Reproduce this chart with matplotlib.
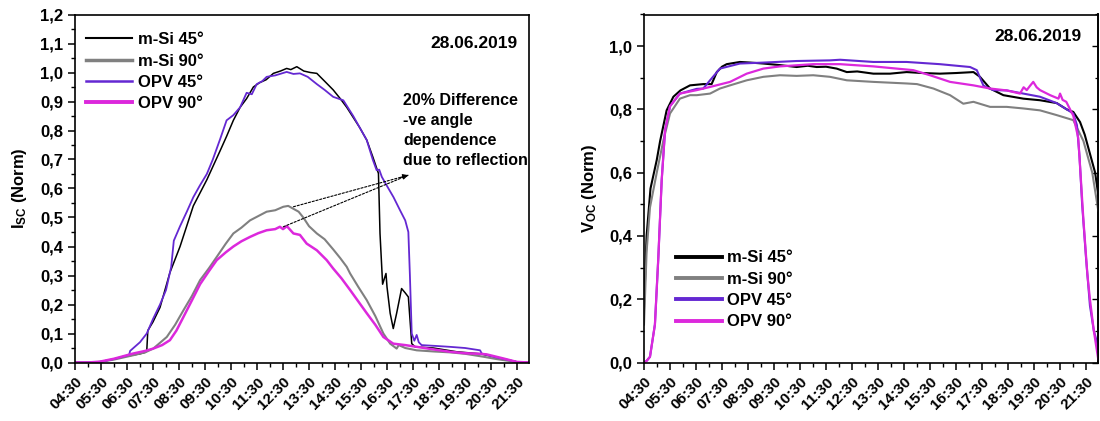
import matplotlib
matplotlib.use("Agg")
import matplotlib.pyplot as plt
from matplotlib.ticker import FixedLocator, MultipleLocator, FuncFormatter

plt.rcParams['font.family'] = ['Liberation Sans', 'DejaVu Sans']
plt.rcParams['font.weight'] = 'bold'
plt.rcParams['mathtext.fontset'] = 'custom'
plt.rcParams['mathtext.rm'] = 'Liberation Sans:bold'
plt.rcParams['mathtext.bf'] = 'Liberation Sans:bold'
plt.rcParams['mathtext.it'] = 'Liberation Sans:bold'

# ---------------- data ----------------
time_labels = ["04:30", "05:30", "06:30", "07:30", "08:30", "09:30", "10:30", "11:30",
               "12:30", "13:30", "14:30", "15:30", "16:30", "17:30", "18:30", "19:30",
               "20:30", "21:30"]
date_text = "28.06.2019"
series_names = ["m-Si 45°", "m-Si 90°", "OPV 45°", "OPV 90°"]

# Left panel: Isc (Norm), time in decimal hours
isc_msi45_t = [4.5, 5.0, 5.5, 6.0, 6.5, 7.0, 7.2, 7.26, 7.3, 7.5, 7.77, 8.15, 8.54, 9.05, 9.57,
               10.08, 10.33, 10.59, 10.85, 11.1, 11.36, 11.6, 11.85, 12.13, 12.4, 12.64, 12.8,
               13.03, 13.3, 13.55, 13.8, 14.1, 14.43, 14.7, 14.95, 15.2, 15.45, 15.72, 15.95,
               16.17, 16.23, 16.33, 16.46, 16.5, 16.62, 16.74, 16.87, 17.06, 17.2, 17.32, 17.45,
               17.58, 18.28, 19.18, 20.08, 20.6, 21.1, 21.6, 21.95]
isc_msi45_v = [0, 0, 0.003, 0.012, 0.022, 0.03, 0.035, 0.04, 0.11, 0.14, 0.19, 0.31, 0.40, 0.54,
               0.63, 0.73, 0.78, 0.835, 0.88, 0.91, 0.95, 0.965, 0.975, 0.997, 1.005, 1.014,
               1.01, 1.02, 1.005, 1.0, 0.997, 0.97, 0.94, 0.91, 0.88, 0.845, 0.81, 0.767, 0.71,
               0.652, 0.445, 0.27, 0.307, 0.26, 0.17, 0.117, 0.17, 0.255, 0.24, 0.226, 0.065,
               0.054, 0.05, 0.037, 0.03, 0.02, 0.01, 0.0, 0.0]

isc_msi90_t = [4.5, 5.0, 5.46, 6.0, 6.74, 7.2, 7.51, 8.03, 8.35, 8.67, 9.0, 9.31, 9.65, 9.95,
               10.3, 10.59, 10.9, 11.23, 11.55, 11.87, 12.2, 12.51, 12.7, 12.9, 13.1, 13.28,
               13.5, 13.8, 14.1, 14.43, 14.7, 14.95, 15.08, 15.4, 15.72, 16.05, 16.36, 16.62,
               16.87, 16.95, 17.2, 17.64, 18.3, 18.92, 19.5, 20.2, 20.7, 21.23, 21.6, 21.95]
isc_msi90_v = [0, 0, 0.002, 0.01, 0.025, 0.035, 0.048, 0.088, 0.13, 0.18, 0.23, 0.284, 0.325,
               0.364, 0.41, 0.445, 0.465, 0.49, 0.505, 0.52, 0.525, 0.537, 0.54, 0.53, 0.52,
               0.50, 0.47, 0.445, 0.425, 0.39, 0.36, 0.33, 0.307, 0.26, 0.215, 0.16, 0.10,
               0.065, 0.048, 0.06, 0.05, 0.042, 0.038, 0.035, 0.03, 0.02, 0.012, 0.005, 0.0, 0.0]

isc_opv45_t = [4.5, 5.0, 5.46, 6.0, 6.5, 6.58, 6.62, 7.0, 7.26, 7.5, 7.77, 8.0, 8.2, 8.3, 8.54,
               8.8, 9.05, 9.3, 9.57, 9.8, 10.08, 10.33, 10.59, 10.85, 11.1, 11.3, 11.49, 11.7,
               11.87, 12.2, 12.64, 12.9, 13.15, 13.45, 13.8, 14.1, 14.43, 14.82, 15.2, 15.45,
               15.72, 15.95, 16.1, 16.2, 16.3, 16.49, 16.75, 17.0, 17.2, 17.32, 17.38, 17.45,
               17.55, 17.64, 17.72, 17.83, 18.4, 18.92, 19.5, 20.08, 20.14, 20.6, 21.1, 21.6,
               21.95]
isc_opv45_v = [0, 0, 0.002, 0.012, 0.024, 0.026, 0.04, 0.07, 0.10, 0.15, 0.20, 0.25, 0.33,
               0.42, 0.47, 0.52, 0.57, 0.61, 0.65, 0.70, 0.77, 0.835, 0.853, 0.88, 0.93, 0.925,
               0.96, 0.97, 0.985, 0.99, 1.002, 0.995, 0.997, 0.985, 0.96, 0.94, 0.916, 0.904,
               0.85, 0.81, 0.767, 0.70, 0.663, 0.665, 0.64, 0.61, 0.57, 0.525, 0.49, 0.45, 0.3,
               0.10, 0.075, 0.095, 0.07, 0.06, 0.057, 0.054, 0.05, 0.042, 0.031, 0.02, 0.01,
               0.0, 0.0]

isc_opv90_t = [4.5, 5.0, 5.46, 6.0, 6.74, 7.2, 7.51, 7.85, 8.15, 8.4, 8.67, 9.0, 9.31, 9.65,
               9.95, 10.3, 10.59, 10.9, 11.23, 11.55, 11.87, 12.2, 12.38, 12.5, 12.65, 12.9,
               13.15, 13.41, 13.8, 14.18, 14.43, 14.75, 15.08, 15.4, 15.72, 16.05, 16.36, 16.74,
               17.2, 17.64, 18.3, 18.92, 19.5, 20.08, 20.33, 20.97, 21.49, 21.95]
isc_opv90_v = [0, 0, 0.003, 0.013, 0.031, 0.04, 0.048, 0.06, 0.077, 0.11, 0.157, 0.215, 0.27,
               0.315, 0.353, 0.38, 0.40, 0.418, 0.433, 0.446, 0.456, 0.46, 0.468, 0.46, 0.47,
               0.445, 0.44, 0.41, 0.387, 0.353, 0.324, 0.29, 0.25, 0.21, 0.17, 0.13, 0.088,
               0.065, 0.06, 0.054, 0.045, 0.037, 0.032, 0.03, 0.028, 0.014, 0.002, 0.0]

# Right panel: Voc (Norm)
voc_msi45_t = [4.5, 4.6, 4.75, 4.99, 5.12, 5.37, 5.63, 5.9, 6.27, 6.78, 7.1, 7.3, 7.5, 7.68,
               8.19, 8.6, 9.09, 9.73, 10.37, 10.8, 11.14, 11.5, 11.91, 12.3, 12.7, 13.32,
               13.96, 14.6, 15.2, 15.88, 16.5, 17.17, 17.42, 17.81, 18.32, 19.09, 19.73, 20.37,
               20.76, 21.01, 21.27, 21.45, 21.65, 21.85, 21.97]
voc_msi45_v = [0.17, 0.40, 0.55, 0.64, 0.70, 0.797, 0.84, 0.86, 0.876, 0.88, 0.88, 0.918,
               0.935, 0.943, 0.95, 0.948, 0.945, 0.94, 0.934, 0.938, 0.934, 0.935, 0.929,
               0.918, 0.92, 0.913, 0.913, 0.918, 0.915, 0.913, 0.915, 0.918, 0.903, 0.866,
               0.845, 0.834, 0.829, 0.82, 0.80, 0.792, 0.76, 0.72, 0.66, 0.6, 0.53]

voc_msi90_t = [4.5, 4.6, 4.73, 4.99, 5.24, 5.5, 5.88, 6.27, 6.53, 7.04, 7.42, 7.81, 8.45, 9.09,
               9.73, 10.37, 11.01, 11.65, 12.3, 13.32, 14.6, 15.0, 15.63, 16.27, 16.78, 17.17,
               17.81, 18.45, 19.09, 19.73, 20.37, 21.01, 21.4, 21.74, 21.97]
voc_msi90_v = [0.12, 0.35, 0.49, 0.60, 0.70, 0.787, 0.834, 0.845, 0.845, 0.85, 0.866, 0.876,
               0.892, 0.903, 0.908, 0.906, 0.908, 0.903, 0.892, 0.887, 0.882, 0.88, 0.866,
               0.845, 0.818, 0.824, 0.808, 0.808, 0.803, 0.797, 0.782, 0.766, 0.70, 0.60, 0.48]

voc_opv45_t = [4.5, 4.6, 4.73, 4.92, 5.05, 5.18, 5.31, 5.5, 5.88, 6.53, 6.78, 7.04, 7.42, 8.19,
               9.09, 10.37, 11.65, 12.04, 13.32, 14.6, 15.88, 17.04, 17.3, 17.55, 17.67, 17.94,
               18.45, 19.09, 19.73, 20.37, 21.01, 21.15, 21.25, 21.35, 21.5, 21.65, 21.8, 21.97]
voc_opv45_v = [0, 0.005, 0.018, 0.12, 0.33, 0.576, 0.734, 0.81, 0.85, 0.865, 0.866, 0.892,
               0.929, 0.945, 0.948, 0.953, 0.955, 0.957, 0.95, 0.95, 0.943, 0.934, 0.924, 0.876,
               0.87, 0.861, 0.86, 0.85, 0.84, 0.82, 0.787, 0.75, 0.65, 0.5, 0.33, 0.18, 0.1, 0.05]

voc_opv90_t = [4.5, 4.6, 4.73, 4.92, 5.05, 5.18, 5.31, 5.5, 5.88, 6.53, 7.04, 7.81, 8.45, 9.09,
               9.73, 11.01, 12.04, 13.32, 14.86, 15.5, 16.27, 17.17, 17.81, 18.45, 18.96, 19.1,
               19.22, 19.35, 19.47, 19.6, 19.73, 20.12, 20.44, 20.5, 20.6, 20.74, 21.01, 21.2,
               21.27, 21.4, 21.55, 21.65, 21.8, 21.97]
voc_opv90_v = [0, 0.005, 0.018, 0.12, 0.33, 0.576, 0.734, 0.81, 0.85, 0.861, 0.871, 0.887,
               0.913, 0.929, 0.936, 0.943, 0.943, 0.936, 0.924, 0.908, 0.887, 0.876, 0.866,
               0.86, 0.85, 0.87, 0.861, 0.875, 0.887, 0.87, 0.861, 0.845, 0.834, 0.85, 0.83,
               0.824, 0.78, 0.71, 0.62, 0.45, 0.28, 0.2, 0.1, 0.01]

# annotation (arrow start points on the 90° peaks, common tip)
arrow_starts = [(12.9, 0.537), (12.51, 0.468)]
arrow_tip = (17.32, 0.646)
note_text = "20% Difference\n-ve angle\ndependence\ndue to reflection"

# ---------------- styling ----------------
colors = ["#000000", "#808080", "#6428D2", "#DC28DC"]
lw_left = [1.1, 1.5, 1.3, 1.8]
lw_right = [1.5, 1.5, 1.5, 1.6]
leg_lw_left = [1.5, 2.5, 1.8, 2.8]
leg_lw_right = [2.8, 2.8, 2.8, 2.8]

W, H = 1100, 421
fig = plt.figure(figsize=(W / 100, H / 100), dpi=100)
ax1 = fig.add_axes([75 / W, 1 - 362.5 / H, 454 / W, 348 / H])
ax2 = fig.add_axes([644 / W, 1 - 362.5 / H, 454 / W, 348 / H])

tick_pos = [int(s[:2]) + int(s[3:]) / 60 for s in time_labels]
comma = FuncFormatter(lambda v, p: f"{v:.1f}".replace(".", ","))

def style_axis(ax, ymax, ymaj, ymin, right_ticks):
    ax.set_xlim(4.5, 21.96)
    ax.set_ylim(0, ymax)
    ax.xaxis.set_major_locator(FixedLocator(tick_pos))
    ax.xaxis.set_minor_locator(FixedLocator([p + 0.5 for p in tick_pos[:-1]]))
    ax.set_xticklabels(time_labels, rotation=45, ha="right", rotation_mode="anchor",
                       fontsize=11, fontweight="bold")
    ax.yaxis.set_major_locator(MultipleLocator(ymaj))
    ax.yaxis.set_minor_locator(MultipleLocator(ymin))
    ax.yaxis.set_major_formatter(comma)
    ax.tick_params(axis="both", which="major", direction="out", length=5, width=1.1)
    ax.tick_params(axis="y", which="major", labelsize=12)
    ax.tick_params(axis="both", which="minor", direction="out", length=3, width=1.0)
    ax.tick_params(axis="x", which="major", pad=4)
    for lab in ax.get_yticklabels():
        lab.set_fontweight("bold")
    for sp in ax.spines.values():
        sp.set_linewidth(1.2)
    if right_ticks:
        sec = ax.secondary_yaxis("right")
        sec.yaxis.set_major_locator(MultipleLocator(ymaj))
        sec.yaxis.set_minor_locator(MultipleLocator(ymin))
        sec.tick_params(which="major", direction="in", length=4, width=1.0, labelright=False)
        sec.tick_params(which="minor", direction="in", length=2.5, width=0.9)
        sec.spines["right"].set_linewidth(1.2)

# ---------------- left panel ----------------
left_data = [(isc_msi45_t, isc_msi45_v), (isc_msi90_t, isc_msi90_v),
             (isc_opv45_t, isc_opv45_v), (isc_opv90_t, isc_opv90_v)]
for (t, v), name, c, lw in zip(left_data, series_names, colors, lw_left):
    ax1.plot(t, v, color=c, lw=lw, label=name)
style_axis(ax1, 1.2, 0.1, 0.05, False)
ax1.set_ylabel(r"$\mathbf{I_{SC}}$ (Norm)", fontsize=12, fontweight="bold")
ax1.yaxis.set_label_coords(-0.102, 0.5)

leg1 = ax1.legend(loc="upper left", bbox_to_anchor=(0.025, 0.949), frameon=False,
                  fontsize=12, handlelength=2.75, handletextpad=0.35, labelspacing=0.38,
                  borderpad=0, borderaxespad=0)
for ln, lw in zip(leg1.get_lines(), leg_lw_left):
    ln.set_linewidth(lw)

ax1.text(0.975, 0.918, date_text, transform=ax1.transAxes, ha="right", va="center",
         fontsize=12.5, fontweight="bold")
ax1.text(17.12, 0.93, note_text, ha="left", va="top", fontsize=11.5, fontweight="bold",
         linespacing=1.42)
for st in arrow_starts:
    ax1.annotate("", xy=arrow_tip, xytext=st,
                 arrowprops=dict(arrowstyle="-", linestyle=(0, (2, 1.5)), lw=0.8,
                                 color="black", shrinkA=0, shrinkB=0))
ax1.annotate("", xy=arrow_tip, xytext=(arrow_tip[0] - 0.3, arrow_tip[1] - 0.008),
             arrowprops=dict(arrowstyle="-|>", lw=0.8, color="black", mutation_scale=8,
                             shrinkA=0, shrinkB=0))

# ---------------- right panel ----------------
right_data = [(voc_msi45_t, voc_msi45_v), (voc_msi90_t, voc_msi90_v),
              (voc_opv45_t, voc_opv45_v), (voc_opv90_t, voc_opv90_v)]
for (t, v), name, c, lw in zip(right_data, series_names, colors, lw_right):
    ax2.plot(t, v, color=c, lw=lw, label=name)
style_axis(ax2, 1.1, 0.2, 0.1, True)
ax2.set_ylabel(r"$\mathbf{V_{OC}}$ (Norm)", fontsize=12, fontweight="bold")
ax2.yaxis.set_label_coords(-0.1, 0.5)

leg2 = ax2.legend(loc="upper left", bbox_to_anchor=(0.07, 0.322), frameon=False,
                  fontsize=12, handlelength=2.75, handletextpad=0.35, labelspacing=0.38,
                  borderpad=0, borderaxespad=0)
for ln, lw in zip(leg2.get_lines(), leg_lw_right):
    ln.set_linewidth(lw)

ax2.text(0.964, 0.936, date_text, transform=ax2.transAxes, ha="right", va="center",
         fontsize=12.5, fontweight="bold")

fig.savefig("out.png", dpi=100)
